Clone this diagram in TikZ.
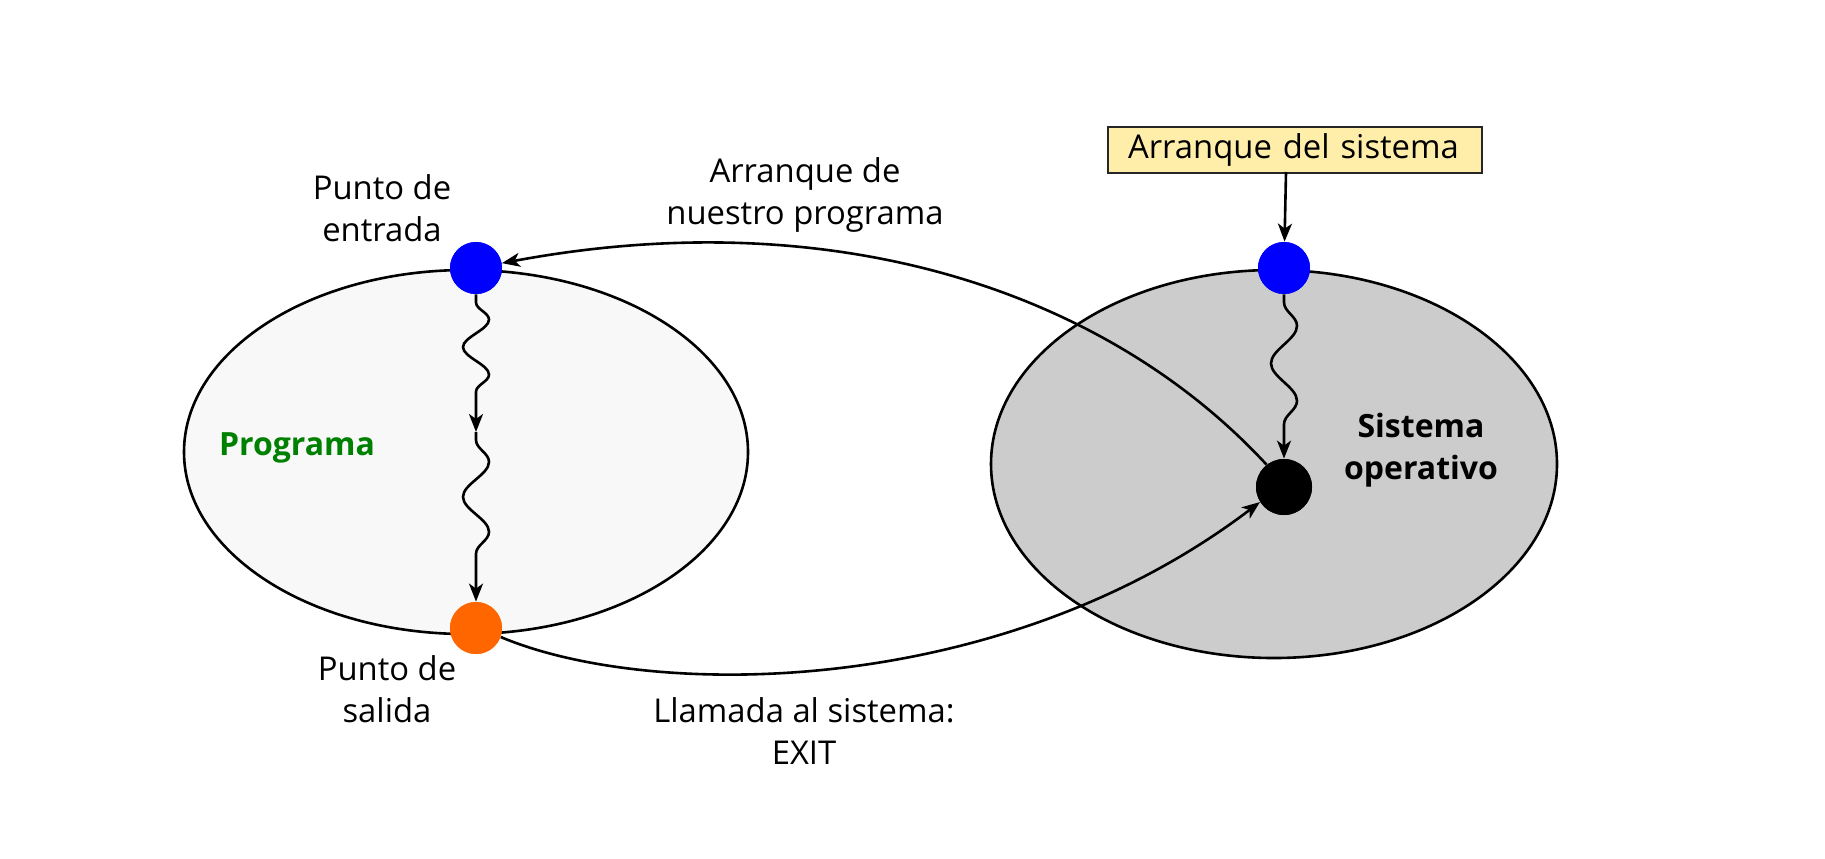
\documentclass[tikz,border=0pt]{standalone}
\usepackage{fontspec}
\setmainfont{Open Sans}
\usetikzlibrary{arrows.meta,decorations.pathmorphing}
\definecolor{progfill}{HTML}{F8F8F8}
\definecolor{sofill}{HTML}{CCCCCC}
\definecolor{dotblue}{HTML}{0000FF}
\definecolor{dotorange}{HTML}{FF6600}
\definecolor{boxyellow}{HTML}{FFEEAA}
\definecolor{proggreen}{HTML}{008000}
\begin{document}
\begin{tikzpicture}[x=0.5pt,y=-0.5pt,
  region/.style={draw=black,line width=1.3pt},
  dot/.style={circle,inner sep=0pt,minimum size=26pt},
  lbl/.style={align=center,font=\fontsize{16.4}{21}\selectfont},
  blbl/.style={align=center,font=\fontsize{16}{21}\selectfont\bfseries},
  conn/.style={line width=1.3pt,-{Stealth[length=9pt,width=7pt,inset=2.5pt]}},
  snk/.style={line width=1.3pt,-{Stealth[length=9pt,width=7pt,inset=2.5pt]},decorate,
    decoration={snake,amplitude=6.5pt,segment length=#1,pre length=4pt,post length=9pt}},
  bootbox/.style={draw=black!85,fill=boxyellow,line width=1pt,text width=167pt,align=left,
    minimum height=23pt,inner ysep=0pt,inner xsep=10pt,font=\fontsize{16.4}{21}\selectfont}
]
\useasboundingbox (0,0) rectangle (1825,858);
\fill[white] (0,0) rectangle (1825,858);

% regions
\draw[region,fill=progfill] (466,452) ellipse [x radius=282, y radius=182];
\draw[region,fill=sofill] (1274,464) ellipse [x radius=283, y radius=194];

% region labels
\node[blbl,text=proggreen] (prog) at (297,448) {Programa};
\node[blbl] (so) at (1421,450) {Sistema\\operativo};

% dots
\node[dot,fill=dotblue] (entry) at (476,268) {};
\node[dot,fill=dotorange] (exit) at (476,628) {};
\node[dot,fill=dotblue] (osentry) at (1284,268) {};
\node[dot,fill=black,minimum size=28pt] (oscore) at (1284,487) {};
\coordinate (mid) at (476,432);

% boot box
\node[bootbox,anchor=north west] (boot) at (1107,126) {Arranque del sistema};
\coordinate (bootout) at (1286,172);

% labels
\node[lbl] (lentry) at (382,208) {Punto de\\entrada};
\node[lbl] (lexit) at (387,689) {Punto de\\salida};
\node[lbl] (lstart) at (805,195) {Arranque de\\nuestro programa};
\node[lbl] (lcall) at (804,731) {Llamada al sistema:\\EXIT};

% connectors
\draw[conn] (bootout) -- (osentry);
\draw[snk=37.5pt] (osentry) -- (oscore);
\draw[snk=27.5pt] (entry) -- (mid);
\draw[snk=35pt] (mid) -- (exit);
\draw[conn] (oscore.128) .. controls (1110,295) and (840,200) .. (entry);
\draw[conn] (exit.-20) .. controls (650,700) and (1000,700) .. (oscore.212);

% redraw dots on top
\node[dot,fill=dotblue] at (entry) {};
\node[dot,fill=dotorange] at (exit) {};
\node[dot,fill=dotblue] at (osentry) {};
\node[dot,fill=black,minimum size=28pt] at (oscore) {};
\end{tikzpicture}
\end{document}
